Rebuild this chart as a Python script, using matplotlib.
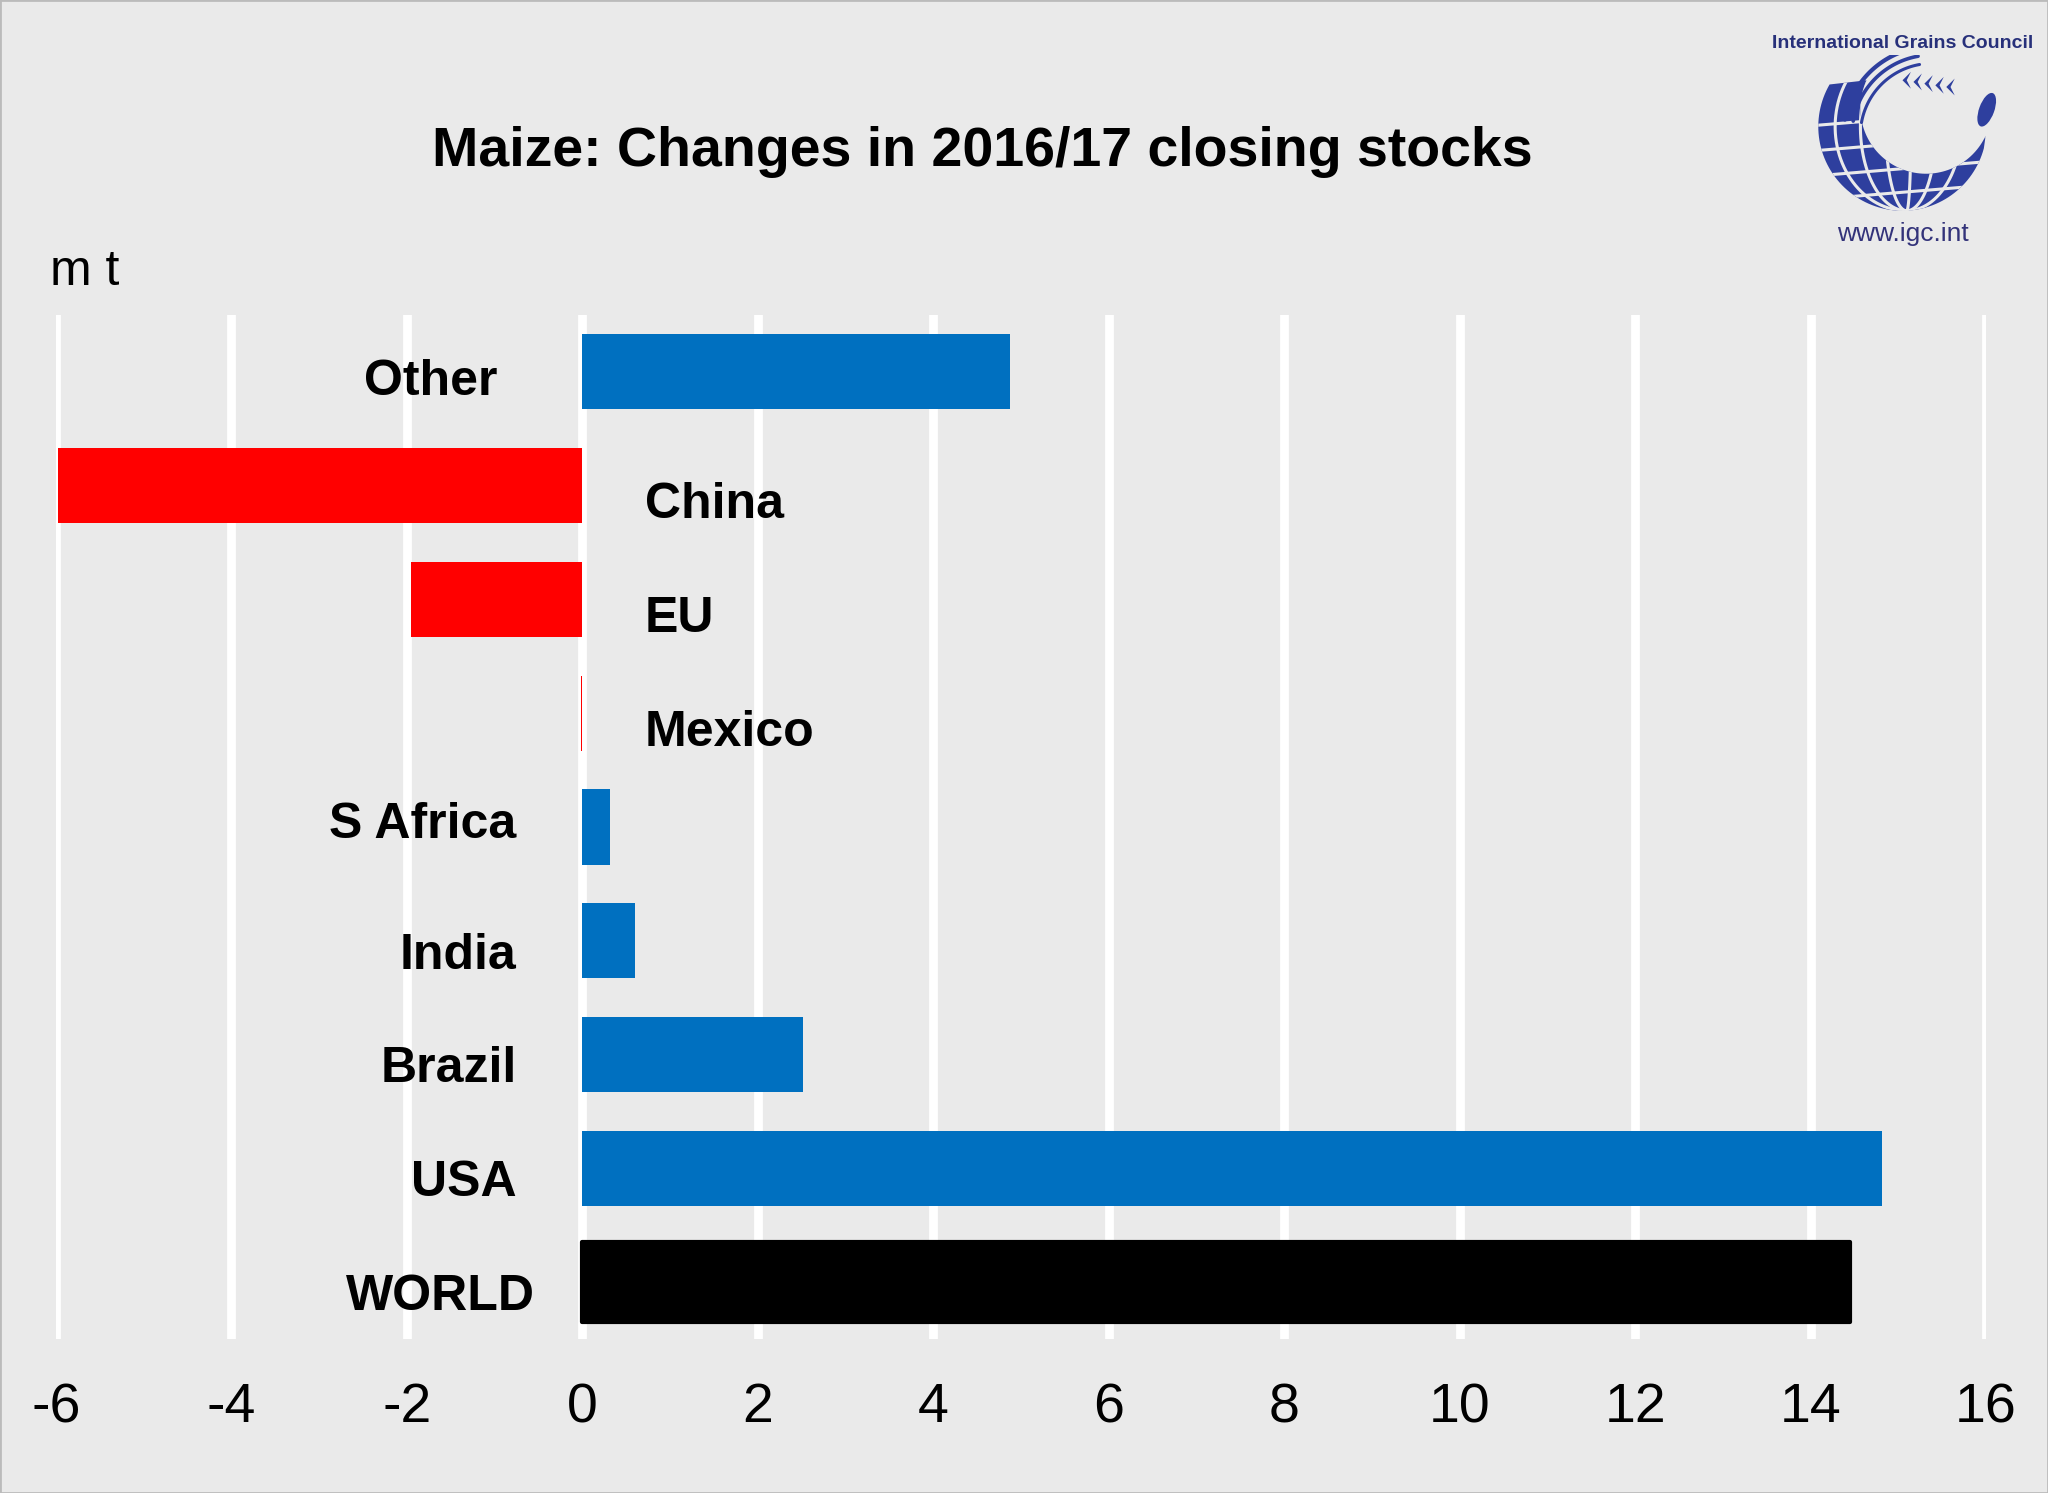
import matplotlib
matplotlib.use('Agg')
import matplotlib.pyplot as plt
import numpy as np
from matplotlib.patches import Rectangle, Polygon, Ellipse
from matplotlib.font_manager import fontManager

# ---------------- data ----------------
categories = ['WORLD', 'USA', 'Brazil', 'India', 'S Africa', 'Mexico', 'EU', 'China', 'Other']
values = [14.45, 14.82, 2.52, 0.6, 0.32, -0.02, -1.95, -5.98, 4.87]
bar_colors = ['#000000', '#0070C0', '#0070C0', '#0070C0', '#0070C0',
              '#FF0000', '#FF0000', '#FF0000', '#0070C0']
xticks = [-6, -4, -2, 0, 2, 4, 6, 8, 10, 12, 14, 16]
xticklabels = [str(v) for v in xticks]
title = 'Maize: Changes in 2016/17 closing stocks'
unit_label = 'm t'

# ---------------- style ----------------
BG = '#EAEAEA'
plt.rcParams['font.family'] = ['Liberation Sans', 'DejaVu Sans']
names = {f.name for f in fontManager.ttflist}
narrow = 'Liberation Sans Narrow' if 'Liberation Sans Narrow' in names else 'Liberation Sans'

fig = plt.figure(figsize=(20.48, 14.93), dpi=100, facecolor=BG)
ax = fig.add_axes([56 / 2048, 1 - 1339 / 1493, (1986 - 56) / 2048, (1339 - 315) / 1493])
ax.set_facecolor(BG)
ax.set_xlim(xticks[0], xticks[-1])
ax.set_ylim(-0.5, len(categories) - 0.5)
for s in ax.spines.values():
    s.set_visible(False)
for xv in xticks:
    ax.axvline(xv, color='white', lw=6.3, zorder=0)

ypos = np.arange(len(categories))
heights = [0.70 if c == 'WORLD' else 0.66 for c in categories]
bars = ax.barh(ypos, values, height=heights, color=bar_colors, zorder=2)
for b, c in zip(bars, categories):
    if c == 'WORLD':
        b.set_edgecolor('black')
        b.set_linewidth(3)
        b.set_joinstyle('round')

ax.set_xticks(xticks)
ax.set_xticklabels(xticklabels, fontfamily=narrow, fontsize=40)
ax.tick_params(axis='x', length=0, pad=31)
ax.set_yticks([])

# category label placement (styling only)
label_dx = {'Other': -0.97, 'WORLD': -0.54}
label_dy = {'S Africa': 0.04, 'Other': -0.07}
for yv, c, v in zip(ypos, categories, values):
    if v >= 0:
        xl = label_dx.get(c, -0.75)
        ax.text(xl, yv - 0.02 + label_dy.get(c, -0.11), c, ha='right', va='center',
                fontsize=36, fontweight='bold', zorder=3)
    else:
        ax.text(0.71, yv - 0.17, c, ha='left', va='center', fontsize=36,
                fontweight='bold', zorder=3)

fig.text(982 / 2048, 1 - 152 / 1493, title, ha='center', va='center',
         fontsize=40, fontweight='bold')
fig.text(50 / 2048, 1 - 272 / 1493, unit_label, ha='left', va='center', fontsize=36)

# ---------------- logo ----------------
LOGO = '#2E3F9E'
fig.text(1903 / 2048, 1 - 43 / 1493, 'International Grains Council', ha='center',
         va='center', fontsize=14, fontweight='bold', color='#27307A',
         fontfamily=narrow)
fig.text(1903 / 2048, 1 - 234 / 1493, 'www.igc.int', ha='center', va='center',
         fontsize=19, color='#33337A')

lax = fig.add_axes([1800 / 2048, 1 - 215 / 1493, 205 / 2048, 160 / 1493])
lax.set_xlim(-1.2, 1.2)
lax.set_ylim(-1.05, 0.85)
lax.set_aspect('equal')
lax.axis('off')

# crescent globe body
t_out = np.radians(np.linspace(150, 345, 80))
outer = np.c_[np.cos(t_out), np.sin(t_out)]
t_in = np.radians(np.linspace(335, 155, 80))
inner = np.c_[0.28 + 0.78 * np.cos(t_in), 0.22 + 0.78 * np.sin(t_in)]
crescent = Polygon(np.vstack([outer, inner]), closed=True, facecolor=LOGO,
                   edgecolor='none')
lax.add_patch(crescent)
for a in [-0.85, -0.55, -0.25, 0.05, 0.35, 0.65]:
    tt = np.linspace(-np.pi / 2, np.pi / 2, 60)
    ln, = lax.plot(a * np.cos(tt) + 0.05, np.sin(tt), color=BG, lw=2.2)
    ln.set_clip_path(crescent)
for yy in [-0.78, -0.5, -0.2, 0.1]:
    ln, = lax.plot([-1.2, 1.2], [yy - 0.1, yy + 0.1], color=BG, lw=2.2)
    ln.set_clip_path(crescent)
for r, w in [(1.05, 3.0), (0.95, 2.6), (0.85, 2.2)]:
    tt = np.radians(np.linspace(100, 170, 40))
    lax.plot(0.35 + r * np.cos(tt), -0.1 + r * np.sin(tt),
             color=LOGO, lw=w, solid_capstyle='round')
for k in range(5):
    x0 = 0.0 + 0.13 * k
    y0 = 0.55 - 0.02 * k
    lax.add_patch(Polygon([[x0, y0], [x0 + 0.1, y0 + 0.1], [x0 + 0.05, y0],
                           [x0 + 0.1, y0 - 0.1]], closed=True, facecolor=LOGO,
                          edgecolor='none'))
lax.add_patch(Ellipse((1.0, 0.2), 0.18, 0.42, angle=-20, facecolor=LOGO,
                      edgecolor='none'))

fig.patches.append(Rectangle((0, 0), 1, 1, transform=fig.transFigure, fill=False,
                             edgecolor='#BBBBBB', lw=2))

fig.savefig('out.png', dpi=100, facecolor=BG)
